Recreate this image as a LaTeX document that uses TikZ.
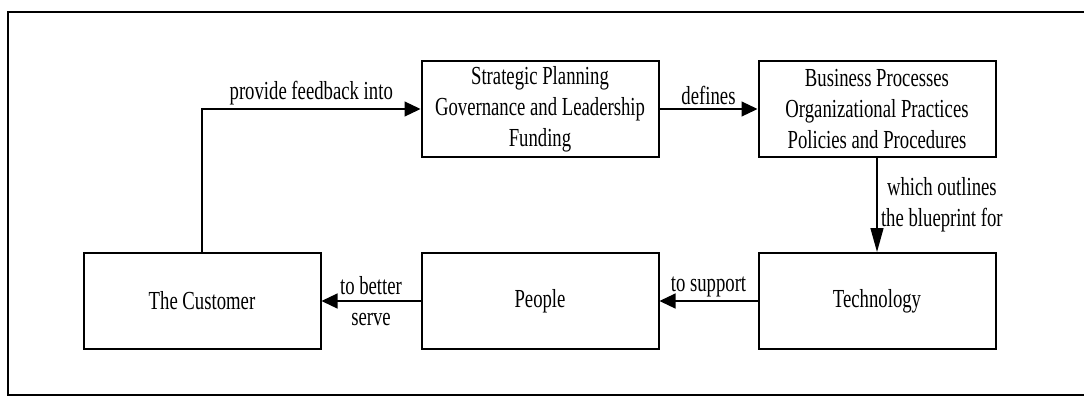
\documentclass[tikz,border=0pt]{standalone}
\usepackage{fontspec}
\setmainfont{Liberation Serif}[FakeStretch=0.72]
\usetikzlibrary{arrows,arrows.meta,positioning}
\tikzset{
    block/.style = {draw, rectangle, line width=2pt,
        minimum height=96pt,
        minimum width=237pt, align=center},
    arrow/.style={draw, line width=1.2pt, -{Triangle[length=16pt,width=15pt]}},
    downarrow/.style={draw, line width=1.4pt, -{Triangle[length=24pt,width=13pt]}},
    lbl/.style = {align=center}
}

\begin{document}
\begin{tikzpicture}[x=1pt, y=-1pt, node distance=338pt,
        font=\fontsize{26pt}{31pt}\selectfont]
        \useasboundingbox (0,0) rectangle (1084,397);
        \draw [line width=1.5pt] (1084,12) -| (8,395) -- (1084,395);
        \node [block] (cust) at (202,301) {The Customer};
        \node [block, right of=cust] (people) {People};
        \node [block, right of=people, node distance=337pt] (tech) {Technology};
        \node [block, above of=tech, node distance=192pt] (busi) {Business Processes\\Organizational Practices\\Policies and Procedures};
        \node [block, left of=busi, node distance=337pt] (strat) {Strategic Planning\\Governance and Leadership\\Funding};
        \draw [arrow] (cust) |- node [pos=0.75, above] {provide feedback into} (strat);
        \draw [arrow] (strat) -- node [above] {defines} (busi);
        \draw [downarrow] (busi) -- node [right, lbl] {which outlines\\the blueprint for} (tech);
        \draw [arrow] (tech) -- node [above] {to support} (people);
        \draw [arrow] (people) -- node [lbl] {to better\\serve} (cust);
        \end{tikzpicture}
\end{document}
